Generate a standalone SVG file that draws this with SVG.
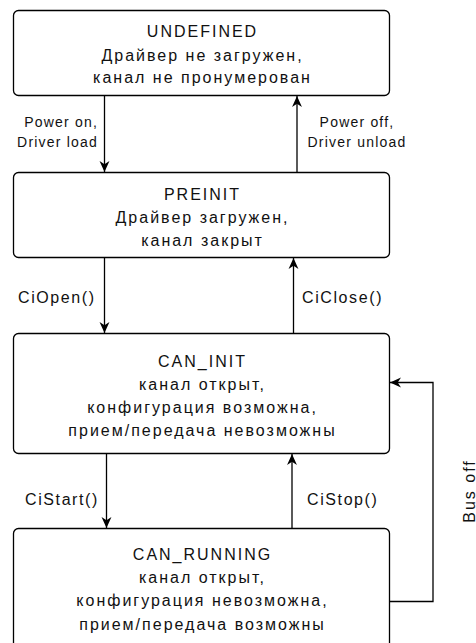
<svg xmlns="http://www.w3.org/2000/svg" width="476" height="643" viewBox="0 0 476 643">
<style>
.box{fill:#fff;stroke:#000;stroke-width:1.3}
.t{font-family:"Liberation Sans",Arial,sans-serif;font-size:16px;letter-spacing:2px;fill:#111;text-anchor:middle}
.e{stroke:#000;stroke-width:1.3;fill:none}
.l{font-family:"Liberation Sans",Arial,sans-serif;font-size:14px;letter-spacing:1.2px;fill:#111}
.r{font-family:"Liberation Sans",Arial,sans-serif;font-size:16px;letter-spacing:1.6px;fill:#111}
</style>
<defs>
<marker id="ah" viewBox="0 0 10 10" refX="10" refY="5" markerWidth="11" markerHeight="11" markerUnits="userSpaceOnUse" orient="auto">
<path d="M0,0.5 L10,5 L0,9.5 L3,5 Z" fill="#000"/>
</marker>
</defs>
<rect width="476" height="643" fill="#fff"/>
<g id="connectors">
<line class="e" x1="104.5" y1="95.5" x2="104.5" y2="172" marker-end="url(#ah)"/>
<line class="e" x1="297" y1="172.5" x2="297" y2="96" marker-end="url(#ah)"/>
<line class="e" x1="104.5" y1="257.5" x2="104.5" y2="333" marker-end="url(#ah)"/>
<line class="e" x1="293.5" y1="333.5" x2="293.5" y2="258" marker-end="url(#ah)"/>
<line class="e" x1="106.5" y1="453.5" x2="106.5" y2="528" marker-end="url(#ah)"/>
<line class="e" x1="292" y1="528.5" x2="292" y2="454" marker-end="url(#ah)"/>
<polyline class="e" points="389.5,601.5 433,601.5 433,382.5 390,382.5" marker-end="url(#ah)"/>
<text class="l" x="98" y="127" text-anchor="end">Power on,</text>
<text class="l" x="98" y="146.5" text-anchor="end">Driver load</text>
<text class="l" x="357" y="127" text-anchor="middle">Power off,</text>
<text class="l" x="357" y="146.5" text-anchor="middle">Driver unload</text>
<text class="r" x="18" y="303">CiOpen()</text>
<text class="r" x="302" y="303">CiClose()</text>
<text class="r" x="25" y="505">CiStart()</text>
<text class="r" x="307" y="505">CiStop()</text>
<text class="t" transform="translate(474.5 491) rotate(-90)">Bus off</text>
</g>
<g id="undefined">
<rect class="box" x="13.5" y="10.5" width="376" height="85" rx="5"/>
<text class="t" x="202.5" y="37">UNDEFINED</text>
<text class="t" x="202.5" y="60.5">Драйвер не загружен,</text>
<text class="t" x="202.5" y="83">канал не пронумерован</text>
</g>
<g id="preinit">
<rect class="box" x="13.5" y="172.5" width="376" height="85" rx="5"/>
<text class="t" x="202.5" y="199.5">PREINIT</text>
<text class="t" x="202.5" y="222.5">Драйвер загружен,</text>
<text class="t" x="202.5" y="245.5">канал закрыт</text>
</g>
<g id="can_init">
<rect class="box" x="13.5" y="333.5" width="376" height="120" rx="5"/>
<text class="t" x="202.5" y="366.5">CAN_INIT</text>
<text class="t" x="202.5" y="389.5">канал открыт,</text>
<text class="t" x="202.5" y="412.5">конфигурация возможна,</text>
<text class="t" x="202.5" y="435.5">прием/передача невозможны</text>
</g>
<g id="can_running">
<rect class="box" x="13.5" y="528.5" width="376" height="120" rx="5"/>
<text class="t" x="202.5" y="560">CAN_RUNNING</text>
<text class="t" x="202.5" y="583">канал открыт,</text>
<text class="t" x="202.5" y="606">конфигурация невозможна,</text>
<text class="t" x="202.5" y="629.5">прием/передача возможны</text>
</g>
</svg>
